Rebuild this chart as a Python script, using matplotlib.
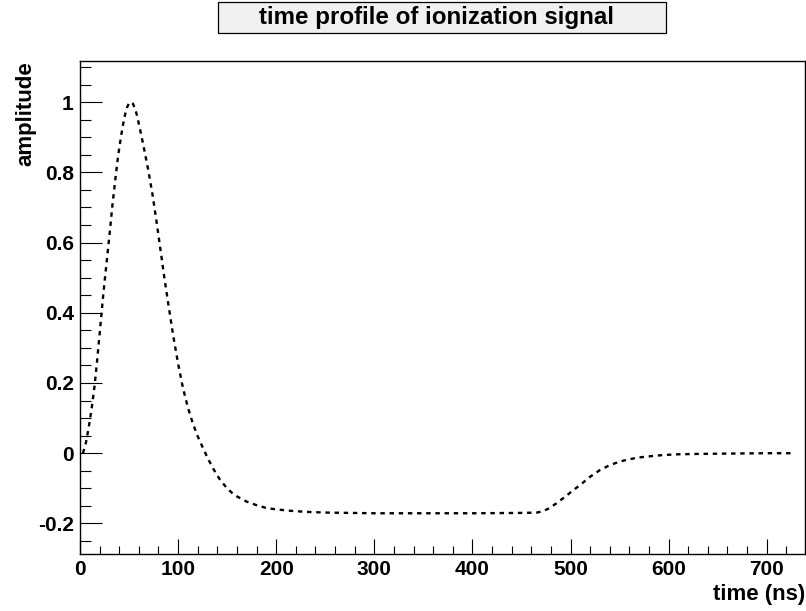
import matplotlib
matplotlib.use("Agg")
import matplotlib.pyplot as plt
from matplotlib.ticker import MultipleLocator, FuncFormatter
from matplotlib.patches import Rectangle

plt.rcParams['font.family'] = ['Liberation Sans', 'DejaVu Sans']
plt.rcParams['font.weight'] = 'bold'
plt.rcParams['lines.scale_dashes'] = False

time_ns = [3, 6, 9, 12, 15, 18, 21, 24, 27, 30, 33, 36, 39, 42, 44, 46, 48, 50,
           52, 54, 56, 58, 61, 64, 67, 70, 74, 78, 82, 86, 90, 95, 100, 105,
           110, 115, 120, 125, 130, 136, 143, 150, 155, 160, 170, 180, 190,
           200, 215, 230, 250, 275, 300, 350, 400, 450, 466, 472, 478, 486,
           494, 502, 510, 520, 530, 540, 550, 560, 570, 580, 595, 610, 630,
           660, 700, 725]
amplitude = [0.0, 0.03, 0.075, 0.13, 0.195, 0.28, 0.37, 0.46, 0.54, 0.62,
             0.705, 0.78, 0.85, 0.905, 0.938, 0.965, 0.985, 0.997, 1.0, 0.995,
             0.982, 0.963, 0.925, 0.885, 0.843, 0.80, 0.735, 0.66, 0.58, 0.50,
             0.425, 0.335, 0.255, 0.185, 0.13, 0.085, 0.048, 0.017, -0.013,
             -0.045, -0.077, -0.10, -0.113, -0.123, -0.138, -0.148, -0.156,
             -0.16, -0.164, -0.167, -0.169, -0.17, -0.171, -0.171, -0.171,
             -0.17, -0.169, -0.165, -0.157, -0.142, -0.125, -0.107, -0.09,
             -0.067, -0.048, -0.034, -0.024, -0.017, -0.012, -0.009, -0.005,
             -0.003, -0.002, -0.001, 0.0, 0.0]

title = "time profile of ionization signal"
xlabel = "time (ns)"
ylabel = "amplitude"

W, H = 806, 611
fig = plt.figure(figsize=(W / 100, H / 100), dpi=100)
ax = fig.add_axes([80 / W, (H - 554) / H, 725 / W, 493 / H])

ax.plot(time_ns, amplitude, color='black', lw=1.7, dashes=[3.2, 3.4])

ax.set_xlim(0, 739)
ax.set_ylim(-0.287, 1.117)

ax.xaxis.set_major_locator(MultipleLocator(100))
ax.xaxis.set_minor_locator(MultipleLocator(20))
ax.yaxis.set_major_locator(MultipleLocator(0.2))
ax.yaxis.set_minor_locator(MultipleLocator(0.05))

def yfmt(v, pos):
    if abs(v) < 1e-9:
        return "0"
    s = f"{v:.1f}"
    if s.endswith(".0"):
        s = s[:-2]
    return s

ax.yaxis.set_major_formatter(FuncFormatter(yfmt))
ax.xaxis.set_major_formatter(FuncFormatter(lambda v, p: f"{v:.0f}"))

ax.tick_params(axis='both', which='both', direction='in', top=False, right=False,
               labelsize=15, width=0.8, color='black')
ax.tick_params(axis='x', which='major', length=10.5, pad=4)
ax.tick_params(axis='x', which='minor', length=5.5)
ax.tick_params(axis='y', which='major', length=15.5, pad=4.5)
ax.tick_params(axis='y', which='minor', length=8)
for lab in ax.get_xticklabels() + ax.get_yticklabels():
    lab.set_fontweight('bold')

for sp in ax.spines.values():
    sp.set_linewidth(1.0)

ax.set_xlabel(xlabel, fontsize=16, fontweight='bold', loc='right', labelpad=4)
ax.set_ylabel(ylabel, fontsize=16, fontweight='bold', loc='top', labelpad=1)

# title box
fig.patches.append(Rectangle((218 / W, (H - 33) / H), 448 / W, 31 / H,
                             transform=fig.transFigure, facecolor='#f0f0f0',
                             edgecolor='black', linewidth=0.9))
fig.text(437 / W, (H - 17.5) / H, title, ha='center', va='center',
         fontsize=17.4, fontweight='bold')

fig.savefig("out.png", dpi=100)
